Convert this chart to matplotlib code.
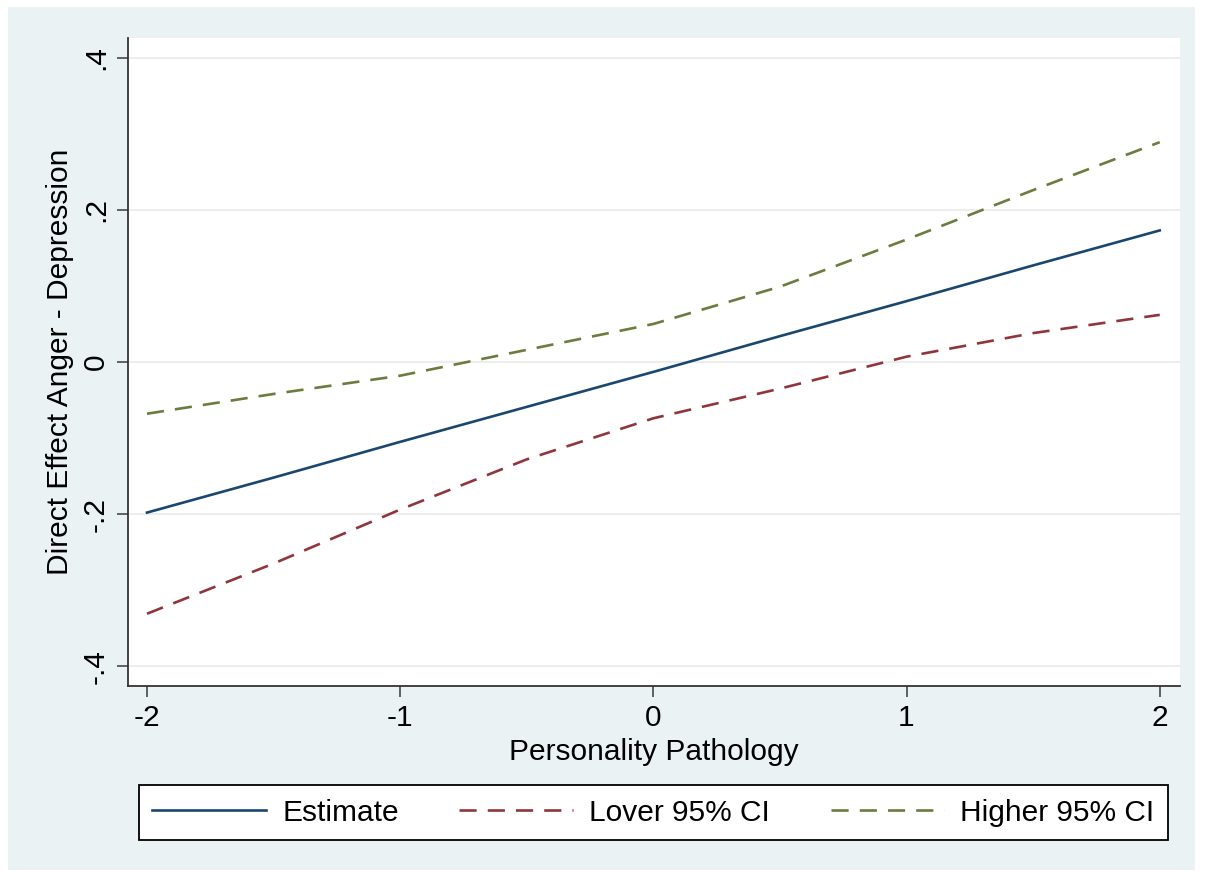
import matplotlib.pyplot as plt

plt.rcParams['font.family'] = ['Liberation Sans', 'DejaVu Sans']

# values
pp = [-2, -1.5, -1, -0.5, 0, 0.5, 1, 1.5, 2]
estimate = [-0.198, -0.152, -0.105, -0.059, -0.013, 0.034, 0.080, 0.127, 0.173]
lower_ci = [-0.331, -0.265, -0.194, -0.128, -0.074, -0.035, 0.007, 0.038, 0.062]
upper_ci = [-0.068, -0.042, -0.018, 0.016, 0.050, 0.099, 0.161, 0.226, 0.289]

xticks = [-2, -1, 0, 1, 2]
yticks = [-0.4, -0.2, 0, 0.2, 0.4]
ytick_labels = ['-.4', '-.2', '0', '.2', '.4']

bg = '#eaf2f3'
fs = 21.5

fig = plt.figure(figsize=(12.05, 8.77), dpi=100, facecolor='white')
# stata graph region
fig.patches.append(plt.Rectangle((8 / 1205, 7 / 877), 1187 / 1205, 863 / 877,
                                 transform=fig.transFigure, facecolor=bg,
                                 edgecolor='none', zorder=-10))

ax = fig.add_axes([128 / 1205, 1 - 686 / 877, 1052 / 1205, 648 / 877])
ax.set_facecolor('white')

dash = (0, (6.5, 4.2))
ax.plot(pp, estimate, color='#1a476f', lw=1.9, label='Estimate')
ax.plot(pp, lower_ci, color='#90353b', lw=1.9, ls=dash, label='Lover 95% CI')
ax.plot(pp, upper_ci, color='#6b7c3e', lw=1.9, ls=dash, label='Higher 95% CI')

ax.set_xlim(-2.075, 2.08)
ax.set_ylim(-0.426, 0.426)
ax.set_xticks(xticks)
ax.set_xticklabels([str(t) for t in xticks])
ax.set_yticks(yticks)
ax.set_yticklabels(ytick_labels, rotation=90, va='center')
ax.grid(axis='y', color='#ececec', lw=1.3)
ax.set_axisbelow(True)

for s in ['top', 'right']:
    ax.spines[s].set_visible(False)
for s in ['left', 'bottom']:
    ax.spines[s].set_color('#333333')
    ax.spines[s].set_linewidth(1.3)
ax.tick_params(axis='both', direction='out', length=8, width=1.3, color='#555555',
               labelsize=fs, pad=5)

ax.set_xlabel('Personality Pathology', fontsize=fs, labelpad=4)
ax.set_ylabel('Direct Effect Anger - Depression', fontsize=fs, labelpad=6)

leg = fig.legend(loc='lower left', ncol=3, mode='expand', borderaxespad=0,
                 bbox_to_anchor=(139 / 1205, 1 - 840 / 877, 1029 / 1205, 55 / 877),
                 fontsize=fs, handlelength=3.8, handletextpad=0.55, columnspacing=1.5,
                 frameon=True, fancybox=False, borderpad=0.45)
leg.get_frame().set_edgecolor('black')
leg.get_frame().set_linewidth(1.3)
leg.get_frame().set_facecolor('white')
leg.get_frame().set_alpha(1)

fig.savefig('out.png', dpi=100, facecolor=fig.get_facecolor())
